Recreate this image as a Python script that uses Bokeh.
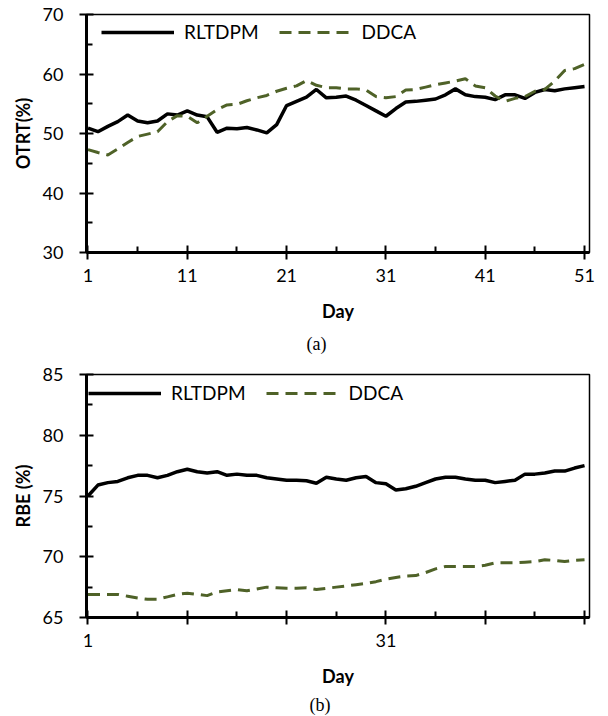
from bokeh.plotting import figure
from bokeh.layouts import column
from bokeh.models import FixedTicker, Legend, LegendItem, Title, Range1d
from bokeh.embed import file_html
from bokeh.resources import INLINE

days = list(range(1, 52))
otrt_rltdpm = [50.9, 50.3, 51.2, 52.0, 53.1, 52.1, 51.8, 52.1, 53.3, 53.1, 53.8, 53.1, 52.8, 50.2, 50.9,
               50.8, 51.0, 50.6, 50.1, 51.5, 54.7, 55.4, 56.1, 57.4, 56.0, 56.1, 56.3, 55.6, 54.7, 53.8,
               52.9, 54.2, 55.3, 55.4, 55.6, 55.8, 56.5, 57.5, 56.5, 56.2, 56.1, 55.7, 56.5, 56.5, 55.9,
               56.9, 57.4, 57.2, 57.5, 57.7, 57.9]
otrt_ddca = [47.3, 46.8, 46.4, 47.4, 48.5, 49.5, 49.9, 50.3, 52.0, 53.0, 52.9, 51.8, 52.9, 54.0, 54.8,
             54.9, 55.5, 56.0, 56.4, 57.1, 57.6, 58.0, 58.9, 58.1, 57.7, 57.7, 57.5, 57.5, 57.3, 56.2,
             56.0, 56.2, 57.3, 57.4, 57.8, 58.2, 58.5, 58.8, 59.2, 58.0, 57.7, 56.3, 55.4, 55.9, 56.2,
             57.1, 57.4, 58.8, 60.6, 60.9, 61.6]
rbe_rltdpm = [75.0, 75.9, 76.1, 76.2, 76.5, 76.7, 76.7, 76.5, 76.7, 77.0, 77.2, 77.0, 76.9, 77.0, 76.7,
              76.8, 76.7, 76.7, 76.5, 76.4, 76.3, 76.3, 76.25, 76.05, 76.55, 76.4, 76.3, 76.5, 76.6, 76.1,
              76.0, 75.5, 75.6, 75.8, 76.1, 76.4, 76.55, 76.55, 76.4, 76.3, 76.3, 76.1, 76.2, 76.3, 76.8,
              76.8, 76.9, 77.05, 77.05, 77.3, 77.5]
rbe_ddca = [66.9, 66.9, 66.9, 66.9, 66.75, 66.6, 66.5, 66.5, 66.7, 66.9, 67.0, 66.9, 66.8, 67.1, 67.2,
            67.3, 67.2, 67.35, 67.5, 67.45, 67.4, 67.4, 67.45, 67.3, 67.4, 67.5, 67.6, 67.7, 67.8, 67.95,
            68.15, 68.3, 68.4, 68.45, 68.7, 69.0, 69.2, 69.2, 69.2, 69.2, 69.3, 69.5, 69.5, 69.5, 69.55,
            69.6, 69.75, 69.7, 69.6, 69.7, 69.75]

x_major = [1, 11, 21, 31, 41, 51]
x_minor = [6, 16, 26, 36, 46]
ya_major = [30, 40, 50, 60, 70]
ya_minor = [35, 45, 55, 65]
yb_major = [65, 70, 75, 80, 85]
yb_minor = [67.5, 72.5, 77.5, 82.5]

FONT = "Lato"
OLIVE = "#4F6228"


def make(ylabel, yrange, ymaj, ymin, rl, dd, caption, frame_h, top, bottom, xlabels,
         leg_x, leg_y, cap_off, cap_standoff):
    p = figure(frame_width=503, frame_height=frame_h, output_backend="svg", toolbar_location=None,
               x_range=Range1d(0.85, 51.5), y_range=Range1d(*yrange),
               min_border_left=86, min_border_right=12, min_border_top=top, min_border_bottom=bottom)
    p.grid.visible = False
    p.outline_line_color = "black"
    p.outline_line_width = 1.5
    r1 = p.line(days, rl, line_color="black", line_width=3.5)
    r2 = p.line(days, dd, line_color=OLIVE, line_width=3, line_dash="12 7")

    p.xaxis.ticker = FixedTicker(ticks=x_major, minor_ticks=x_minor)
    p.yaxis.ticker = FixedTicker(ticks=ymaj, minor_ticks=ymin)
    if xlabels is not None:
        p.xaxis.major_label_overrides = xlabels
    for ax in (p.xaxis, p.yaxis):
        ax.axis_line_width = 3
        ax.axis_line_color = "black"
        ax.major_tick_line_width = 2
        ax.minor_tick_line_width = 2
        ax.major_tick_in = 7
        ax.major_tick_out = 7
        ax.minor_tick_in = 6
        ax.minor_tick_out = 0
        ax.major_label_text_font = FONT
        ax.major_label_text_font_size = "18px"
        ax.major_label_text_color = "black"
        ax.axis_label_text_font = FONT
        ax.axis_label_text_font_size = "18px"
        ax.axis_label_text_font_style = "bold"
        ax.axis_label_text_color = "black"
    p.xaxis.axis_label = "Day"
    p.xaxis.major_label_standoff = 9
    p.xaxis.axis_label_standoff = 15
    p.yaxis.axis_label = ylabel
    p.yaxis.major_label_standoff = 16
    p.yaxis.axis_label_standoff = 6

    legend = Legend(items=[LegendItem(label="RLTDPM", renderers=[r1]),
                           LegendItem(label="DDCA", renderers=[r2])],
                    orientation="horizontal", location=(leg_x, leg_y),
                    glyph_width=73, glyph_height=20, label_standoff=10, spacing=20,
                    padding=0, margin=0, border_line_color=None, background_fill_alpha=0,
                    label_text_font=FONT, label_text_font_size="19px", label_text_color="black")
    p.add_layout(legend, "center")

    t = Title(text=caption, align="left", offset=cap_off, standoff=cap_standoff,
              text_font="Liberation Serif", text_font_size="18px",
              text_font_style="normal", text_color="black")
    p.add_layout(t, "below")
    return p


p1 = make("OTRT(%)", (30, 70), ya_major, ya_minor, otrt_rltdpm, otrt_ddca, "(a)",
          238, 14, 108, None, 15, 238 - 9 - 20, 220, 14)
p2 = make("RBE (%)", (65, 85), yb_major, yb_minor, rbe_rltdpm, rbe_ddca, "(b)",
          243, 14, 95, {11: "", 21: "", 41: "", 51: ""}, 2, 243 - 10 - 20, 223, 7)

layout = column(p1, p2, spacing=0)
open("out.html", "w").write(file_html(layout, INLINE))
